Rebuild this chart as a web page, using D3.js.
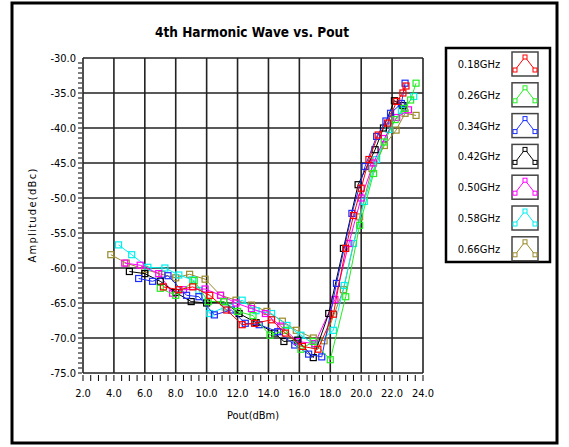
<!DOCTYPE html>
<html>
<head>
<meta charset="utf-8">
<script src="https://cdn.jsdelivr.net/npm/d3@7"></script>
<style>
  body { margin: 0; background: #fff; }
  svg text { font-family: "Liberation Sans Narrow", "DejaVu Sans Condensed", "Liberation Sans", sans-serif; }
</style>
</head>
<body>
<div class="viz"></div>
<script>
// series labels
const freqs = ["0.18GHz", "0.26GHz", "0.34GHz", "0.42GHz", "0.50GHz", "0.58GHz", "0.66GHz"]
const colors = ["#ff0000", "#22ee22", "#1a2cff", "#000000", "#ff00ff", "#00f0f0", "#9a8a2a"]

// [Pout dBm, amplitude dBc]
const s018 = [[7.2,-62.7],[8.2,-63.1],[9.1,-62.7],[10.2,-63.9],[11.3,-66.0],[12.3,-68.1],[13.1,-67.9],[14.2,-67.4],[15.1,-69.3],[16.2,-71.2],[17.2,-71.6],[18.2,-66.6],[19.0,-57.2],[19.5,-52.5],[20.0,-48.6],[20.5,-44.5],[21.1,-41.0],[21.7,-39.3],[22.3,-36.2],[22.7,-35.0],[22.9,-34.0]]
const s026 = [[7.0,-62.9],[8.0,-63.9],[9.2,-61.8],[10.1,-64.8],[11.1,-64.8],[12.0,-66.2],[13.0,-66.8],[14.1,-69.6],[15.1,-68.9],[16.1,-71.6],[16.9,-70.5],[18.0,-73.1],[19.0,-64.1],[19.9,-53.9],[20.8,-46.5],[21.5,-42.0],[22.2,-38.8],[22.8,-37.2],[23.2,-36.0],[23.55,-33.6]]
const s034 = [[5.6,-61.5],[6.5,-61.9],[7.5,-61.1],[8.7,-63.9],[9.5,-64.1],[10.5,-66.7],[11.6,-66.0],[12.5,-67.9],[13.4,-68.1],[14.6,-69.1],[15.7,-71.0],[16.6,-72.3],[17.45,-72.7],[18.4,-62.2],[19.4,-52.2],[20.25,-45.5],[21.0,-41.2],[21.6,-39.0],[21.9,-37.9],[22.6,-36.5],[22.84,-33.6]]
const s042 = [[5.0,-60.5],[6.0,-60.8],[7.0,-61.9],[8.0,-63.5],[9.0,-64.8],[10.0,-65.0],[11.1,-64.8],[12.1,-66.5],[13.2,-67.8],[14.4,-69.3],[15.0,-70.5],[15.9,-70.3],[16.9,-72.8],[17.9,-66.5],[18.85,-57.2],[19.8,-48.1],[20.9,-43.1],[21.44,-40.0],[22.15,-36.1],[22.7,-36.8]]
const s050 = [[4.7,-59.3],[5.7,-59.6],[6.9,-60.8],[7.8,-63.6],[8.5,-63.1],[9.9,-63.0],[10.9,-63.9],[11.9,-65.0],[12.9,-65.8],[13.8,-66.5],[14.8,-68.3],[15.9,-70.5],[17.0,-70.8],[18.3,-64.5],[19.2,-56.5],[20.0,-50.0],[20.8,-45.0],[21.5,-41.5],[22.3,-38.5],[23.06,-37.4]]
const s058 = [[4.3,-56.7],[5.15,-58.1],[6.2,-59.9],[7.3,-60.0],[8.2,-61.0],[9.1,-61.7],[9.5,-63.2],[10.2,-66.5],[11.2,-65.6],[12.3,-64.6],[13.2,-66.1],[14.2,-66.5],[15.2,-68.2],[16.1,-69.6],[17.0,-71.0],[18.2,-68.9],[18.9,-62.5],[19.5,-56.5],[20.2,-50.5],[21.0,-44.5],[21.8,-40.2],[22.6,-37.5],[23.4,-35.5]]
const s066 = [[3.8,-58.1],[4.8,-59.3],[6.0,-60.2],[7.1,-60.9],[8.0,-61.4],[8.9,-60.9],[9.9,-61.6],[10.9,-63.9],[11.9,-64.6],[12.9,-65.3],[13.9,-66.2],[14.9,-67.6],[15.8,-68.9],[16.9,-70.0],[17.6,-70.4],[18.85,-63.1],[19.9,-52.7],[20.7,-45.8],[21.5,-42.5],[22.26,-40.3],[22.84,-37.9],[23.55,-38.2]]
const series = [s018, s026, s034, s042, s050, s058, s066]

const xTicks = d3.range(2, 24.01, 2)
const yTicks = d3.range(-75, -29.9, 5)

const W = 569, H = 447

const svg = d3.select(".viz").append("svg")
  .attr("width", W)
  .attr("height", H)

// outer frame
svg.append("rect")
  .attr("x", 12).attr("y", 3)
  .attr("width", 545).attr("height", 440)
  .attr("fill", "none").attr("stroke", "#000").attr("stroke-width", 3)

svg.append("text")
  .attr("x", 252).attr("y", 37)
  .attr("text-anchor", "middle")
  .attr("font-size", 13.5).attr("font-weight", "bold")
  .text("4th Harmonic Wave vs. Pout")

var x = d3.scaleLinear().domain([2, 24]).range([83, 423])
var y = d3.scaleLinear().domain([-75, -30]).range([373, 58])

// grid
svg.append("g").selectAll("line")
  .data(xTicks).enter().append("line")
  .attr("x1", d => x(d)).attr("x2", d => x(d))
  .attr("y1", y(-30)).attr("y2", y(-75))
  .attr("stroke", "#222").attr("stroke-width", 1.6)
svg.append("g").selectAll("line")
  .data(yTicks).enter().append("line")
  .attr("x1", x(2)).attr("x2", x(24))
  .attr("y1", d => y(d)).attr("y2", d => y(d))
  .attr("stroke", "#222").attr("stroke-width", 1.6)

// minor ticks
svg.append("g").selectAll("line")
  .data(d3.range(2, 24.01, 0.5)).enter().append("line")
  .attr("x1", d => x(d)).attr("x2", d => x(d))
  .attr("y1", y(-75) + 2).attr("y2", y(-75) + 8)
  .attr("stroke", "#000").attr("stroke-width", 1)
svg.append("g").selectAll("line")
  .data(d3.range(0, 63).map(i => -75 + i * 5 / 7)).enter().append("line")
  .attr("x1", x(2) - 5).attr("x2", x(2) - 1)
  .attr("y1", d => y(d)).attr("y2", d => y(d))
  .attr("stroke", "#000").attr("stroke-width", 1)

// tick labels
svg.append("g").selectAll("text")
  .data(xTicks).enter().append("text")
  .attr("x", d => x(d)).attr("y", 397)
  .attr("text-anchor", "middle").attr("font-size", 11)
  .text(d => d.toFixed(1))
svg.append("g").selectAll("text")
  .data(yTicks).enter().append("text")
  .attr("x", 76).attr("y", d => y(d) + 4)
  .attr("text-anchor", "end").attr("font-size", 11)
  .text(d => d.toFixed(1))

svg.append("text")
  .attr("x", 253).attr("y", 419)
  .attr("text-anchor", "middle").attr("font-size", 11)
  .text("Pout(dBm)")
svg.append("text")
  .attr("transform", "translate(36,215) rotate(-90)")
  .attr("text-anchor", "middle").attr("font-size", 11)
  .attr("letter-spacing", 1.3)
  .text("Amplitude(dBc)")

// series, last first so 0.18GHz sits on top
const line = d3.line().x(d => x(d[0])).y(d => y(d[1]))
for (let i = series.length - 1; i >= 0; i--) {
  const g = svg.append("g")
  g.append("path")
    .attr("d", line(series[i]))
    .attr("fill", "none").attr("stroke", colors[i]).attr("stroke-width", 1)
  g.selectAll("rect")
    .data(series[i]).enter().append("rect")
    .attr("x", d => x(d[0]) - 3).attr("y", d => y(d[1]) - 3)
    .attr("width", 6).attr("height", 6)
    .attr("fill", "none").attr("stroke", colors[i]).attr("stroke-width", 1.2)
}

// legend
const lg = svg.append("g")
lg.append("rect")
  .attr("x", 446).attr("y", 48).attr("width", 104).attr("height", 214)
  .attr("fill", "#fff").attr("stroke", "#000").attr("stroke-width", 2.5)
freqs.forEach((f, i) => {
  const cy = 64 + i * 30.8
  lg.append("text")
    .attr("x", 479).attr("y", cy + 4)
    .attr("text-anchor", "middle").attr("font-size", 11)
    .text(f)
  lg.append("rect")
    .attr("x", 512).attr("y", cy - 12).attr("width", 26).attr("height", 24)
    .attr("fill", "#fff").attr("stroke", "#444").attr("stroke-width", 1.5)
  const pts = [[515, cy + 6], [525, cy - 7], [535, cy + 6]]
  lg.append("polyline")
    .attr("points", pts.map(p => p.join(",")).join(" "))
    .attr("fill", "none").attr("stroke", colors[i]).attr("stroke-width", 1)
  lg.selectAll(null).data(pts).enter().append("rect")
    .attr("x", p => p[0] - 2).attr("y", p => p[1] - 2)
    .attr("width", 4).attr("height", 4)
    .attr("fill", "#fff").attr("stroke", colors[i]).attr("stroke-width", 1)
})
</script>
</body>
</html>
